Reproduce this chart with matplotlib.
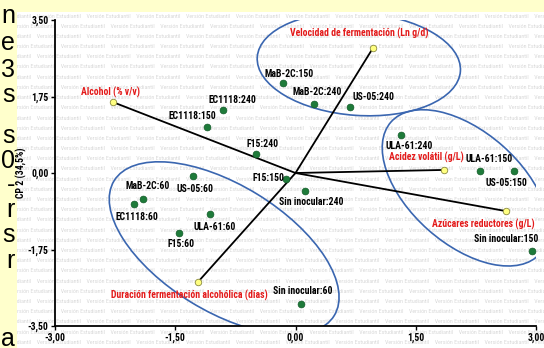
import matplotlib
matplotlib.use("Agg")
import matplotlib.pyplot as plt
from matplotlib import font_manager
from matplotlib.patches import Ellipse, Rectangle
from matplotlib.transforms import Affine2D
import matplotlib.ticker as ticker

# observaciones (tratamiento:tiempo)
obs_nombres = ["MaB-2C:150", "MaB-2C:240", "US-05:240", "EC1118:240", "EC1118:150",
               "F15:240", "F15:150", "Sin inocular:240", "US-05:60", "MaB-2C:60",
               "EC1118:60", "ULA-61:60", "F15:60", "Sin inocular:60", "ULA-61:240",
               "ULA-61:150", "US-05:150", "Sin inocular:150"]
obs_x = [-0.16, 0.23, 0.68, -0.90, -1.10, -0.49, -0.12, 0.12, -1.28, -1.90,
         -2.01, -1.07, -1.45, 0.07, 1.31, 2.30, 2.73, 2.95]
obs_y = [2.06, 1.58, 1.50, 1.44, 1.06, 0.43, -0.13, -0.41, -0.08, -0.60,
         -0.71, -0.94, -1.38, -3.00, 0.87, 0.05, 0.05, -1.78]
# posicion de las etiquetas (esquina izquierda)
obs_lx = [-0.39, -0.04, 0.71, -1.09, -1.59, -0.61, -0.54, -0.21, -1.49, -2.12,
          -2.24, -1.27, -1.60, -0.275, 1.12, 2.12, 2.375, 2.23]
obs_ly = [2.27, 1.85, 1.74, 1.67, 1.30, 0.66, -0.11, -0.67, -0.37, -0.29,
          -1.01, -1.24, -1.62, -2.69, 0.62, 0.31, -0.22, -1.52]

# variables (vectores)
var_nombres = ["Alcohol (% v/v)", "Velocidad de fermentación (Ln g/d)", "Acidez volátil (g/L)",
               "Azúcares reductores (g/L)", "Duración fermentación alcohólica (días)"]
var_x = [-2.275, 0.97, 1.85, 2.62, -1.22]
var_y = [1.62, 2.87, 0.07, -0.87, -2.50]
var_lx = [-2.31, 0.79, 1.63, 2.34, -1.32]
var_ly = [1.85, 3.20, 0.35, -1.17, -2.81]

# grupos (centro x, centro y, semieje mayor, semieje menor en unidades de x, angulo visual)
grupos_cx = [0.79, 2.12, -0.89]
grupos_cy = [2.49, -0.34, -1.72]
grupos_a = [1.27, 1.24, 1.61]
grupos_b = [0.64, 0.70, 0.79]
grupos_ang = [-4, -41.5, -31.5]

xticks = [-3.0, -1.5, 0.0, 1.5, 3.0]
yticks = [-3.5, -1.75, 0.0, 1.75, 3.5]

# letras cortadas del texto de la diapositiva
margen_letras = ["n", "e", "3", "s", "s", "0", "-", "r", "s", "r", "a"]
margen_y = [23, 50, 77, 102, 143, 168, 192, 217, 242, 268, 346]


def fuente_estrecha():
    negritas = {f.name for f in font_manager.fontManager.ttflist
                if (f.weight == 700 or f.weight == "bold")}
    for nombre in ["Liberation Sans Narrow", "Arial Narrow", "Archivo Narrow",
                   "Roboto Condensed", "Asap Condensed", "Barlow Semi Condensed"]:
        if nombre in negritas:
            return nombre
    return "Liberation Sans"


estrecha = fuente_estrecha()
fuente = [estrecha, "DejaVu Sans"]

W, H = 544, 348
fig = plt.figure(figsize=(W / 100, H / 100), dpi=100)
fig.patch.set_facecolor("#FFFFCC")

for letra, yy in zip(margen_letras, margen_y):
    fig.text(15 / W, 1 - yy / H, letra, ha="right", va="baseline", fontsize=18,
             family="Liberation Sans", color="black")

panel = Rectangle((17 / W, 0), 1 - 17 / W, 1 - 12 / H, transform=fig.transFigure,
                  facecolor="white", edgecolor="none", zorder=-2)
fig.patches.append(panel)

# marca de agua, una linea de texto por fila
fila_txt = "    ".join(["Versión Estudiantil"] * 14)
fila = 0
yy = 16
while yy < H:
    desplaz = 17 - (6 if fila % 2 else 30)
    t = fig.text(desplaz / W, 1 - yy / H, fila_txt, fontsize=4.3, color="#d9d9d9",
                 family=fuente, va="center", ha="left", zorder=-1)
    t.set_clip_path(panel)
    yy += 10.2
    fila += 1

ax = fig.add_axes([55 / W, 22 / H, 481 / W, 306 / H])
ax.set_zorder(3)
ax.set_facecolor("none")
ax.set_xlim(-3, 3)
ax.set_ylim(-3.5, 3.5)
for s in ["top", "right"]:
    ax.spines[s].set_visible(False)
for s in ["left", "bottom"]:
    ax.spines[s].set_linewidth(1.3)

coma = ticker.FuncFormatter(lambda v, _: f"{v:.2f}".replace(".", ","))
ax.set_xticks(xticks)
ax.set_yticks(yticks)
ax.xaxis.set_major_formatter(coma)
ax.yaxis.set_major_formatter(coma)
ax.tick_params(length=3, width=1, pad=1.5, labelsize=7)
for lab in ax.get_xticklabels() + ax.get_yticklabels():
    lab.set_family(fuente)
    lab.set_fontweight("bold")
ax.set_ylabel("CP 2 (34,5%)", fontsize=7, fontweight="bold", family=fuente)
ax.yaxis.set_label_coords((27 - 55) / 481, 0.5)

# elipses dibujadas en un espacio donde una unidad de y mide lo mismo que una de x
k = (481 / 6) / (306 / 7)
for cx, cy, a, b, ang in zip(grupos_cx, grupos_cy, grupos_a, grupos_b, grupos_ang):
    e = Ellipse((cx, cy / k), 2 * a, 2 * b, angle=ang, facecolor="none", edgecolor="#3A66B0",
                linewidth=1.2, transform=Affine2D().scale(1, k) + ax.transData, zorder=2)
    ax.add_patch(e)

for vx, vy in zip(var_x, var_y):
    ax.plot([0, vx], [0, vy], color="black", linewidth=1.3, zorder=3)
ax.scatter(var_x, var_y, s=22, color="#FFFF80", edgecolor="#8a8a40", linewidth=0.6, zorder=4)
ax.scatter(obs_x, obs_y, s=24, color="#1E7B3A", edgecolor="#125a28", linewidth=0.5, zorder=4)

for nom, lx, ly in zip(obs_nombres, obs_lx, obs_ly):
    ax.text(lx, ly, nom, ha="left", va="center", fontsize=7, fontweight="bold",
            family=fuente, color="black", zorder=5)
for nom, lx, ly in zip(var_nombres, var_lx, var_ly):
    ax.text(lx, ly, nom, ha="center", va="center", fontsize=7, fontweight="bold",
            family=fuente, color="#E31A1A", zorder=5)

fig.savefig("out.png", dpi=100)
